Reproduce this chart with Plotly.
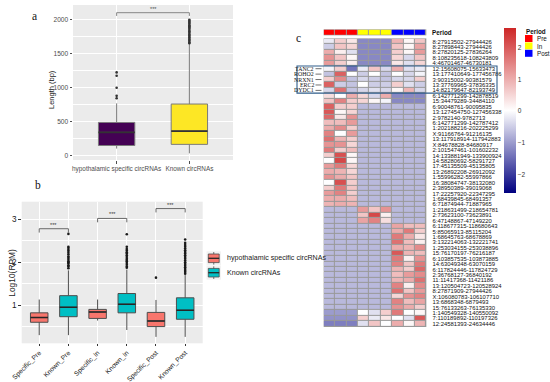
import plotly.graph_objects as go

W, H = 550, 382
def px(x): return x / W
def py(y): return 1 - y / H

SANS = "Liberation Sans, Arial, sans-serif"
SERIF = "Liberation Serif, Times New Roman, serif"

# ---------------- Panel a data ----------------
a_categories = ["hypothalamic specific circRNAs", "Known circRNAs"]
a_colors = ["#440154", "#FDE725"]
a_lowerfence = [105, 35]
a_q1 = [150, 167]
a_median = [343, 363]
a_q3 = [490, 760]
a_upperfence = [770, 1645]
a_outliers = [
    [845, 880, 1000, 1175, 1225],
    [1655, 1670, 1690, 1705, 1720, 1740, 1760, 1775, 1790, 1810, 1830, 1850,
     1870, 1890, 1905, 1920, 1940, 1955, 1970, 1985, 2000],
]
a_sig_y = 2103
a_sig_tip = 2055
a_ytickvals = [0, 500, 1000, 1500, 2000]

# ---------------- Panel b data ----------------
b_categories = ["Specific_Pre", "Known_Pre", "Specific_In", "Known_In", "Specific_Post", "Known_Post"]
b_groups = ["hypothalamic specific circRNAs", "Known circRNAs"]
b_group_colors = ["#F8766D", "#00BFC4"]
b_group_of = [0, 1, 0, 1, 0, 1]
b_lowerfence = [0.30, 0.30, 0.64, 0.42, 0.26, 0.26]
b_q1 = [0.60, 0.73, 0.69, 0.82, 0.50, 0.67]
b_median = [0.71, 0.95, 0.84, 1.02, 0.63, 0.88]
b_q3 = [0.82, 1.22, 0.90, 1.27, 0.83, 1.17]
b_upperfence = [1.13, 1.81, 1.13, 1.83, 1.12, 1.70]
b_outliers = [
    [],
    [1.86, 1.90, 1.93, 1.97, 2.00, 2.02, 2.06, 2.10, 2.13, 2.18, 2.22, 2.26, 2.29, 2.33, 2.36, 2.66],
    [],
    [1.87, 1.90, 1.94, 1.98, 2.02, 2.05, 2.08, 2.12, 2.16, 2.20, 2.23, 2.27, 2.31, 2.36, 2.65],
    [1.64],
    [1.73, 1.77, 1.80, 1.84, 1.88, 1.92, 1.96, 2.00, 2.04, 2.08, 2.12, 2.16, 2.20, 2.24,
     2.28, 2.32, 2.36, 2.40, 2.45, 2.53],
]
b_sig_pairs = [(1, 2), (3, 4), (5, 6)]
b_sig_y = [2.78, 3.02, 3.25]
b_sig_drop = 0.09
b_ytickvals = [1, 2, 3]

# ---------------- Panel c data ----------------
c_samples = ["Pre_1", "Pre_2", "Pre_3", "In_1", "In_2", "In_3", "Post_1", "Post_2", "Post_3"]
c_sample_period = ["Pre", "Pre", "Pre", "In", "In", "In", "Post", "Post", "Post"]
c_periods = ["Pre", "In", "Post"]
c_period_colors = ["#FF0000", "#FFFF00", "#0000FF"]
c_rows = [
    "8:27913502-27944426", "8:27898443-27944426", "8:27820125-27836264", "8:108235618-108243809",
    "4:46701467-46730181", "12:15608075-15633473", "13:177410649-177456786", "3:90315002-90381579",
    "13:37769965-37836335", "14:82179647-82193749", "6:142771299-142878519", "15:34479289-34484110",
    "6:90048761-90095835", "13:127454750-127456338", "2:9782140-9782713", "6:142771299-142787412",
    "1:202188216-202225299", "X:91166764-91216135", "13:117918914-117942883", "X:84678828-84680917",
    "2:101547461-101602232", "14:133881949-133900924", "14:58280692-58291727", "17:45135509-45135805",
    "13:26892208-26912092", "1:55996282-55997866", "16:38084747-38132080", "2:38950389-39019068",
    "17:22257920-22347295", "1:68439845-68491357", "6:71874944-71887965", "1:218631499-218654781",
    "2:73623100-73623891", "6:47148867-47149220", "6:118677315-118680643", "5:85065913-85115204",
    "1:68645763-68678869", "3:132214063-132221741", "1:253034155-253038896", "15:76170197-76216187",
    "6:103857535-103873885", "14:63049348-63070159", "6:117824446-117824729", "2:36768127-36840192",
    "11:11417368-11421186", "13:120504723-120528924", "8:27871909-27944426", "X:106080783-106107710",
    "13:6868348-6879493", "15:76133263-76135330", "1:140549328-140550092", "7:110189892-110197326",
    "12:24581393-24634446",
]
c_z = [
    [-0.2, 0.6, 0.3, -1.2, -1.2, -1.2, 0.9, 0.1, 0.7],
    [-0.5, 0.7, 0.5, -1.2, -1.2, -1.2, 0.7, 0.1, 1.1],
    [1.0, 0.2, -0.3, -1.2, -1.2, -1.2, 0.6, 0.1, 1.2],
    [1.3, 0.7, 0.1, -1.2, -1.2, -1.2, 0.5, -0.4, 0.7],
    [1.2, 0.6, 0.2, -1.2, -1.2, -1.2, 0.3, -0.3, 0.5],
    [-0.1, 0.6, -1.4, -0.2, 0.7, -0.4, 1.0, -0.3, -0.2],
    [-0.6, 1.9, 0.0, -0.5, 0.0, -0.6, 0.0, -0.4, -0.1],
    [0.6, 1.4, -0.6, -0.4, -0.5, -0.6, -0.4, -0.4, 0.6],
    [1.9, -0.5, -0.6, 0.0, -0.5, -0.5, 0.6, -0.3, -0.5],
    [-0.4, 1.7, -0.6, -0.4, -0.3, -0.4, 0.1, 0.9, -0.4],
    [0.4, 0.0, 1.0, 0.5, -0.4, 1.0, -1.2, -1.2, -1.2],
    [0.7, 1.5, 0.6, 0.5, 0.1, -0.1, -1.2, -1.2, -1.2],
    [1.9, 0.6, 0.6, -0.7, -0.7, -0.7, -0.7, -0.7, -0.7],
    [2.0, 0.1, 0.5, -0.7, -0.7, -0.7, -0.7, -0.7, -0.7],
    [1.8, 0.3, 1.3, -0.7, -0.7, -0.7, -0.7, -0.7, -0.7],
    [0.8, 0.8, 1.2, -0.7, -0.7, -0.7, -0.7, -0.7, -0.7],
    [1.0, 1.4, 0.6, -0.7, -0.7, -0.7, -0.7, -0.7, -0.7],
    [1.5, 0.0, 1.2, -0.7, -0.7, -0.7, -0.7, -0.7, -0.7],
    [1.7, 0.9, 0.6, -0.7, -0.7, -0.7, -0.7, -0.7, -0.7],
    [1.3, 1.3, 0.5, -0.7, -0.7, -0.7, -0.7, -0.7, -0.7],
    [1.6, 0.6, 0.8, -0.7, -0.7, -0.7, -0.7, -0.7, -0.7],
    [0.6, 2.1, 0.1, -0.7, -0.7, -0.7, -0.7, -0.7, -0.7],
    [0.0, 2.2, 0.1, -0.7, -0.7, -0.7, -0.7, -0.7, -0.7],
    [1.2, 1.6, 0.5, -0.7, -0.7, -0.7, -0.7, -0.7, -0.7],
    [1.0, 0.9, 0.5, -0.7, -0.7, -0.7, -0.7, -0.7, -0.7],
    [1.3, 1.0, 0.7, -0.7, -0.7, -0.7, -0.7, -0.7, -0.7],
    [0.0, 2.1, 0.6, -0.7, -0.7, -0.7, -0.7, -0.7, -0.7],
    [0.6, 1.6, 0.7, -0.7, -0.7, -0.7, -0.7, -0.7, -0.7],
    [1.2, 1.5, 0.6, -0.7, -0.7, -0.7, -0.7, -0.7, -0.7],
    [1.0, 1.0, 0.8, -0.7, -0.7, -0.7, -0.7, -0.7, -0.7],
    [0.9, 1.0, 0.9, -0.7, -0.7, -0.7, -0.7, -0.7, -0.7],
    [-0.7, -0.7, -0.7, 1.2, 0.7, 1.3, -0.7, -0.7, -0.7],
    [-0.7, -0.7, -0.7, 0.7, 2.2, 0.2, -0.7, -0.7, -0.7],
    [-0.7, -0.7, -0.7, 1.1, 1.5, 0.4, -0.7, -0.7, -0.7],
    [-0.7, -0.7, -0.7, -0.7, -0.7, -0.7, 1.1, 0.8, 0.8],
    [-0.7, -0.7, -0.7, -0.7, -0.7, -0.7, 1.0, 1.6, 0.6],
    [-0.7, -0.7, -0.7, -0.7, -0.7, -0.7, 1.6, 1.0, 0.3],
    [-0.7, -0.7, -0.7, -0.7, -0.7, -0.7, 1.7, 0.8, 0.2],
    [-0.7, -0.7, -0.7, -0.7, -0.7, -0.7, 1.0, 0.9, 1.4],
    [-0.7, -0.7, -0.7, -0.7, -0.7, -0.7, 2.0, 0.9, 0.8],
    [-0.7, -0.7, -0.7, -0.7, -0.7, -0.7, 1.6, 0.2, 1.3],
    [-0.7, -0.7, -0.7, -0.7, -0.7, -0.7, 1.5, 0.7, 1.6],
    [-0.7, -0.7, -0.7, -0.7, -0.7, -0.7, 0.9, 0.6, 1.8],
    [-0.7, -0.7, -0.7, -0.7, -0.7, -0.7, 0.8, 1.2, 1.4],
    [-0.7, -0.7, -0.7, -0.7, -0.7, -0.7, 0.9, 1.0, 1.7],
    [-0.7, -0.7, -0.7, -0.7, -0.7, -0.7, 1.5, 0.2, 1.4],
    [-0.7, -0.7, -0.7, -0.7, -0.7, -0.7, 1.7, 0.7, 1.2],
    [-0.7, -0.7, -0.7, -0.7, -0.7, -0.7, 0.5, 1.3, 1.5],
    [-0.7, -0.7, -0.7, -0.7, -0.7, -0.7, 1.5, 0.8, 1.1],
    [-0.7, -0.7, -0.7, -0.7, -0.7, -0.7, 1.3, 1.0, 0.6],
    [-1.0, -1.0, -1.0, 0.0, -0.3, 0.6, 1.6, 0.0, 0.1],
    [-1.1, -1.1, -1.1, 0.6, -0.2, 0.3, 0.0, -0.3, 2.0],
    [-1.3, -1.3, -1.3, -0.3, 0.7, 0.0, 1.0, 0.1, 0.9],
]
c_zmin, c_zmax = -2.58, 2.6
c_colorbar_ticks = [-2, -1, 0, 1, 2]
c_marked_genes = ["TANC2", "ROHO2", "NRXN1", "ERC2", "DYDC1"]
c_marked_rows = [5, 6, 7, 8, 9]

fig = go.Figure()

# ---------------- Panel a ----------------
a_pos = list(range(1, len(a_categories) + 1))
a_bw = 0.5
for i, p in enumerate(a_pos):
    fig.add_trace(go.Box(
        x=[p], q1=[a_q1[i]], median=[a_median[i]], q3=[a_q3[i]],
        lowerfence=[a_lowerfence[i]], upperfence=[a_upperfence[i]],
        width=a_bw, whiskerwidth=0, fillcolor=a_colors[i],
        line=dict(color="#7a7a7a", width=1), boxpoints=False,
        showlegend=False, hoverinfo="skip", xaxis="x", yaxis="y"))
    fig.add_trace(go.Scatter(
        x=[p - a_bw / 2, p + a_bw / 2], y=[a_median[i]] * 2, mode="lines",
        line=dict(color="#333333", width=1.8), showlegend=False, hoverinfo="skip",
        xaxis="x", yaxis="y"))
    if a_outliers[i]:
        fig.add_trace(go.Scatter(
            x=[p] * len(a_outliers[i]), y=a_outliers[i], mode="markers",
            marker=dict(color="#333333", size=2.6), showlegend=False, hoverinfo="skip",
            xaxis="x", yaxis="y"))
fig.add_trace(go.Scatter(
    x=[a_pos[0], a_pos[0], a_pos[1], a_pos[1]], y=[a_sig_tip, a_sig_y, a_sig_y, a_sig_tip],
    mode="lines", line=dict(color="#7a7a7a", width=0.9), showlegend=False, hoverinfo="skip",
    xaxis="x", yaxis="y"))

# ---------------- Panel b ----------------
b_pos = list(range(1, len(b_categories) + 1))
b_bw = 0.6
for i, p in enumerate(b_pos):
    col = b_group_colors[b_group_of[i]]
    fig.add_trace(go.Box(
        x=[p], q1=[b_q1[i]], median=[b_median[i]], q3=[b_q3[i]],
        lowerfence=[b_lowerfence[i]], upperfence=[b_upperfence[i]],
        width=b_bw, whiskerwidth=0, fillcolor=col,
        line=dict(color="#4d4d4d", width=1), boxpoints=False,
        showlegend=False, hoverinfo="skip", xaxis="x2", yaxis="y2"))
    fig.add_trace(go.Scatter(
        x=[p - b_bw / 2, p + b_bw / 2], y=[b_median[i]] * 2, mode="lines",
        line=dict(color="#262626", width=1.6), showlegend=False, hoverinfo="skip",
        xaxis="x2", yaxis="y2"))
    if b_outliers[i]:
        fig.add_trace(go.Scatter(
            x=[p] * len(b_outliers[i]), y=b_outliers[i], mode="markers",
            marker=dict(color="#1a1a1a", size=2.6), showlegend=False, hoverinfo="skip",
            xaxis="x2", yaxis="y2"))
for (l, r), yv in zip(b_sig_pairs, b_sig_y):
    fig.add_trace(go.Scatter(
        x=[l, l, r, r], y=[yv - b_sig_drop, yv, yv, yv - b_sig_drop], mode="lines",
        line=dict(color="#595959", width=0.9), showlegend=False, hoverinfo="skip",
        xaxis="x2", yaxis="y2"))

# ---------------- Panel c ----------------
n_rows = len(c_rows)
n_cols = len(c_samples)
fig.add_trace(go.Heatmap(
    z=c_z, x=list(range(n_cols)), y=list(range(n_rows)),
    zmin=c_zmin, zmax=c_zmax,
    colorscale=[[0, "#000080"], [0.5, "#FFFFFF"], [1, "#CD2626"]],
    xgap=1, ygap=1, hoverinfo="skip", xaxis="x3", yaxis="y3",
    colorbar=dict(x=px(504), xanchor="left", xpad=0, y=py(28.3), yanchor="top", ypad=0,
                  len=165, lenmode="pixels", thickness=12, thicknessmode="pixels",
                  outlinewidth=0, tickvals=c_colorbar_ticks, ticks="",
                  tickfont=dict(family=SANS, size=6.5, color="#333333"))))
period_idx = [c_periods.index(p) for p in c_sample_period]
nP = len(c_periods)
ann_scale = []
for k, colr in enumerate(c_period_colors):
    ann_scale.append([k / nP, colr])
    ann_scale.append([(k + 1) / nP, colr])
fig.add_trace(go.Heatmap(
    z=[period_idx], x=list(range(n_cols)), y=[0], zmin=-0.5, zmax=nP - 0.5,
    colorscale=ann_scale, showscale=False, xgap=1, ygap=0, hoverinfo="skip",
    xaxis="x4", yaxis="y4"))

# ---------------- Layout ----------------
grid = dict(showgrid=True, gridcolor="white", gridwidth=1, zeroline=False, showline=False,
            automargin=False)
hx0, hx1 = 323.5, 426.5
hy0, hy1 = 38.3, 327.0
plain = dict(showgrid=False, zeroline=False, automargin=False)
fig.update_layout(
    width=W, height=H, margin=dict(l=0, r=0, t=0, b=0, pad=0, autoexpand=False),
    paper_bgcolor="white", plot_bgcolor="#EBEBEB", showlegend=False,
    xaxis=dict(domain=[px(73), px(233)], range=[0.4, 2.6], tickvals=a_pos, ticktext=a_categories,
               tickangle=0,
               tickfont=dict(family=SANS, size=6.4, color="#4d4d4d"), ticks="outside", ticklen=2.5,
               tickcolor="#4d4d4d", anchor="y", **grid),
    yaxis=dict(domain=[py(160), py(5)], range=[-63, 2216], tickvals=a_ytickvals,
               tickfont=dict(family=SANS, size=6.6, color="#4d4d4d"), ticks="outside", ticklen=2.5,
               tickcolor="#4d4d4d", anchor="x",
               minor=dict(dtick=250, tick0=0, showgrid=True, gridcolor="white", gridwidth=0.5),
               **grid),
    xaxis2=dict(domain=[px(21.7), px(202.7)], range=[0.4, 6.6], tickvals=b_pos, ticktext=b_categories,
                tickangle=-45, tickfont=dict(family=SANS, size=6.7, color="#1a1a1a"), ticks="outside",
                ticklen=2, tickcolor="#333333", anchor="y2", **grid),
    yaxis2=dict(domain=[py(343.3), py(201.7)], range=[0.11, 3.41], tickvals=b_ytickvals,
                tickfont=dict(family=SANS, size=8.2, color="#1a1a1a"), ticks="outside", ticklen=2.5,
                tickcolor="#333333", anchor="x2",
                minor=dict(dtick=0.5, tick0=0, showgrid=True, gridcolor="white", gridwidth=0.5),
                **grid),
    xaxis3=dict(domain=[px(hx0), px(hx1)], range=[-0.53, n_cols - 0.47],
                showticklabels=False, ticks="", anchor="y3", **plain),
    yaxis3=dict(domain=[py(hy1), py(hy0)], range=[n_rows - 0.4, -0.6],
                side="right", tickvals=list(range(n_rows)), ticktext=c_rows, ticks="",
                ticklabelstandoff=5, tickfont=dict(family=SANS, size=5.9, color="#111111"),
                anchor="x3", **plain),
    xaxis4=dict(domain=[px(hx0), px(hx1)], range=[-0.53, n_cols - 0.47],
                showticklabels=False, ticks="", anchor="y4", **plain),
    yaxis4=dict(domain=[py(35.6), py(29.2)], range=[0.6, -0.6],
                showticklabels=False, ticks="", anchor="x4", **plain),
)

shapes = [
    dict(type="rect", xref="x3", yref="y3", x0=-0.53, x1=n_cols - 0.47, y0=-0.6, y1=n_rows - 0.4,
         fillcolor="#999999", line=dict(width=0), layer="below"),
    dict(type="rect", xref="x4", yref="y4", x0=-0.53, x1=n_cols - 0.47, y0=-0.6, y1=0.6,
         fillcolor="#999999", line=dict(width=0), layer="below"),
]
# highlighted region box
r0, r1 = c_marked_rows[0], c_marked_rows[-1]
shapes.append(dict(type="rect", xref="paper", yref="y3", x0=px(297), x1=px(497), y0=r0 - 0.5, y1=r1 + 0.5,
                   line=dict(color="#2F5D8A", width=1.1), fillcolor="rgba(0,0,0,0)"))
annotations = []
for g, r in zip(c_marked_genes, c_marked_rows):
    annotations.append(dict(text=g, xref="paper", yref="y3", x=px(314.5), y=r, xanchor="right",
                            yanchor="middle", showarrow=False, borderpad=0,
                            font=dict(family=SERIF, size=5.9, color="#111111")))
    shapes.append(dict(type="line", xref="paper", yref="y3", x0=px(315.5), x1=px(321.5), y0=r, y1=r,
                       line=dict(color="#333333", width=0.7)))

# Period label next to the annotation bar
annotations.append(dict(text="<b>Period</b>", xref="paper", yref="paper", x=px(430), y=py(32.4),
                        xanchor="left", yanchor="middle", showarrow=False,
                        font=dict(family=SANS, size=6.3, color="#111111")))
# Period legend
annotations.append(dict(text="<b>Period</b>", xref="paper", yref="paper", x=px(524), y=py(31),
                        xanchor="left", yanchor="middle", showarrow=False,
                        font=dict(family=SANS, size=6.3, color="#111111")))
leg_top = 35.0
leg_h = 7.4
for k, (p, colr) in enumerate(zip(c_periods, c_period_colors)):
    y0 = leg_top + k * leg_h
    shapes.append(dict(type="rect", xref="paper", yref="paper", x0=px(525), x1=px(532.5),
                       y0=py(y0), y1=py(y0 + leg_h - 0.4), fillcolor=colr, line=dict(width=0)))
    annotations.append(dict(text=p, xref="paper", yref="paper", x=px(534.5), y=py(y0 + leg_h / 2),
                            xanchor="left", yanchor="middle", showarrow=False,
                            font=dict(family=SANS, size=6.3, color="#111111")))

# Panel b manual legend
b_leg_y = [258.3, 272.7]
for k, (name, colr) in enumerate(zip(b_groups, b_group_colors)):
    cy = b_leg_y[k]
    shapes.append(dict(type="rect", xref="paper", yref="paper", x0=px(206.5), x1=px(221),
                       y0=py(cy - 7), y1=py(cy + 7), fillcolor="#F2F2F2", line=dict(width=0)))
    shapes.append(dict(type="line", xref="paper", yref="paper", x0=px(213.75), x1=px(213.75),
                       y0=py(cy - 6.3), y1=py(cy + 6.3), line=dict(color="#4d4d4d", width=0.8)))
    shapes.append(dict(type="rect", xref="paper", yref="paper", x0=px(208.3), x1=px(219.2),
                       y0=py(cy - 4.3), y1=py(cy + 4.3), fillcolor=colr,
                       line=dict(color="#4d4d4d", width=0.8)))
    shapes.append(dict(type="line", xref="paper", yref="paper", x0=px(208.3), x1=px(219.2),
                       y0=py(cy), y1=py(cy), line=dict(color="#262626", width=1.3)))
    annotations.append(dict(text=name, xref="paper", yref="paper", x=px(225), y=py(cy),
                            xanchor="left", yanchor="middle", showarrow=False,
                            font=dict(family=SANS, size=7.1, color="#1a1a1a")))

# significance stars
annotations.append(dict(text="***", xref="x", yref="y", x=(a_pos[0] + a_pos[1]) / 2, y=a_sig_y,
                        yanchor="bottom", showarrow=False, yshift=-1,
                        font=dict(family=SANS, size=5.5, color="#4d4d4d")))
for (l, r), yv in zip(b_sig_pairs, b_sig_y):
    annotations.append(dict(text="***", xref="x2", yref="y2", x=(l + r) / 2, y=yv,
                            yanchor="bottom", showarrow=False, yshift=-1,
                            font=dict(family=SANS, size=5.5, color="#333333")))

# axis titles
annotations.append(dict(text="Length (bp)", xref="paper", yref="paper", x=px(52), y=py(90),
                        textangle=-90, showarrow=False, xanchor="center", yanchor="middle",
                        font=dict(family=SANS, size=7.5, color="#1a1a1a")))
annotations.append(dict(text="Log10(RPM)", xref="paper", yref="paper", x=px(11.7), y=py(273),
                        textangle=-90, showarrow=False, xanchor="center", yanchor="middle",
                        font=dict(family=SANS, size=8.4, color="#1a1a1a")))
# panel letters
for lab, (lx, ly) in zip(["a", "b", "c"], [(35, 16), (38, 185), (298, 38)]):
    annotations.append(dict(text=lab, xref="paper", yref="paper", x=px(lx), y=py(ly),
                            showarrow=False, xanchor="center", yanchor="middle",
                            font=dict(family=SERIF, size=11.5, color="#111111")))

fig.update_layout(shapes=shapes, annotations=annotations)
fig.write_html("out.html", config={"displayModeBar": False},
               post_script="document.body.style.margin='0px';document.body.style.padding='0px';")
